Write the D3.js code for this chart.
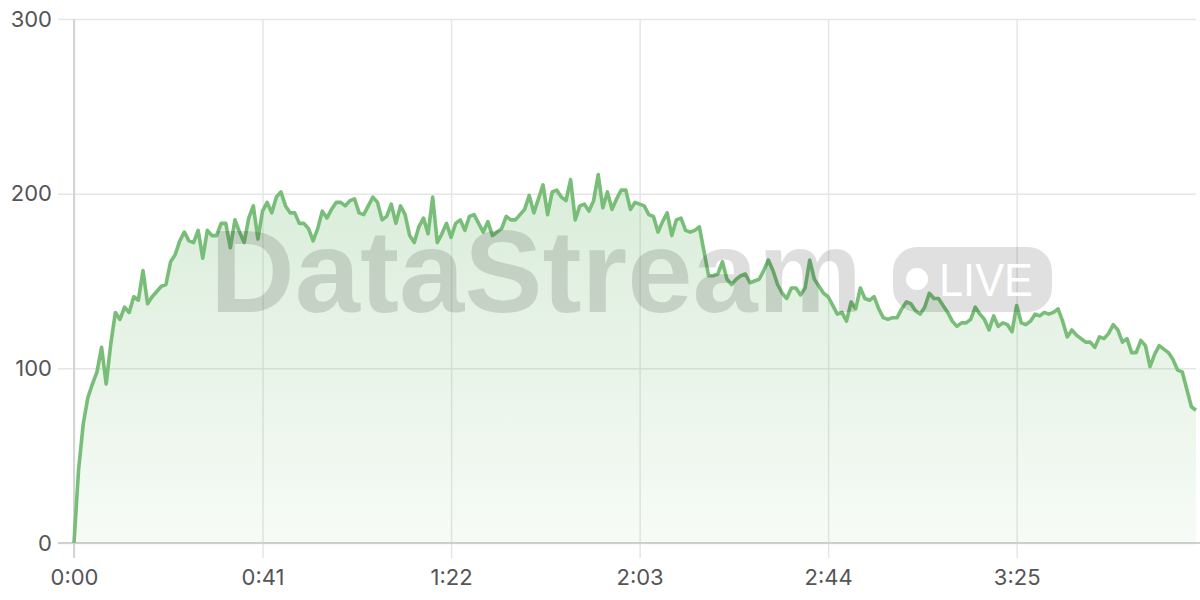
<!DOCTYPE html>
<html>
<head>
<meta charset="utf-8">
<script src="https://cdn.jsdelivr.net/npm/d3@7"></script>
<style>
  body { margin: 0; background: #fff; }
  svg { display: block; }
</style>
</head>
<body>
<svg id="chart"></svg>
<script>
// one reading per second
const values = [
  0, 42, 68, 83, 91, 98, 112, 91, 114, 132, 128, 135, 132, 141, 139, 156, 137, 141, 144, 147,
  148, 161, 165, 173, 178, 173, 172, 179, 163, 179, 176, 176, 183, 183, 169, 185, 178, 172, 186, 193,
  174, 190, 195, 189, 198, 201, 193, 189, 189, 183, 183, 180, 173, 180, 190, 186, 191, 195, 195, 193,
  196, 197, 189, 188, 193, 198, 195, 185, 187, 194, 183, 193, 188, 176, 172, 181, 186, 177, 198, 172,
  177, 183, 175, 183, 185, 179, 187, 188, 183, 178, 184, 176, 178, 180, 187, 185, 185, 188, 191, 199,
  189, 197, 205, 188, 201, 202, 198, 196, 208, 185, 193, 194, 190, 196, 211, 192, 201, 191, 197, 202,
  202, 191, 195, 194, 193, 188, 187, 178, 184, 189, 176, 185, 186, 179, 178, 179, 181, 167, 153, 153,
  154, 161, 151, 148, 151, 153, 154, 149, 150, 151, 156, 162, 156, 148, 143, 140, 146, 146, 142, 146,
  162, 151, 147, 143, 141, 136, 131, 132, 127, 138, 134, 146, 140, 139, 141, 134, 129, 128, 129, 129,
  134, 138, 137, 133, 131, 135, 143, 140, 140, 136, 132, 127, 124, 126, 126, 128, 135, 131, 128, 122,
  130, 124, 126, 125, 121, 136, 126, 125, 127, 131, 130, 132, 131, 132, 134, 127, 118, 122, 119, 117,
  115, 115, 112, 118, 117, 120, 125, 122, 115, 117, 109, 109, 116, 113, 101, 108, 113, 111, 109, 105,
  99, 98, 88, 78, 76
];
const xTickSeconds = [0, 41, 82, 123, 164, 205];
const yTicks = [0, 100, 200, 300];
const watermark = 'DataStream';
const badge = 'LIVE';

const W = 1200, H = 600;
const margin = {top: 19, right: 4, bottom: 57, left: 74};
const w = W - margin.left - margin.right;
const h = H - margin.top - margin.bottom;
const lineColor = '#78bd78';
const font = 'Inter, "DejaVu Sans", sans-serif';

const svg = d3.select('#chart').attr('width', W).attr('height', H);

const defs = svg.append('defs');
const grad = defs.append('linearGradient')
  .attr('id', 'fillGrad')
  .attr('x1', 0).attr('x2', 0).attr('y1', 0).attr('y2', 1);
grad.append('stop').attr('offset', '0%').attr('stop-color', lineColor).attr('stop-opacity', 0.28);
grad.append('stop').attr('offset', '100%').attr('stop-color', lineColor).attr('stop-opacity', 0.06);

const g = svg.append('g').attr('transform', `translate(${margin.left},${margin.top})`);

const x = d3.scaleLinear().domain([0, values.length - 1]).range([0, w]);
const y = d3.scaleLinear().domain([0, 300]).range([h, 0]);

const fmt = s => Math.floor(s / 60) + ':' + String(s % 60).padStart(2, '0');

// y grid + labels
const yAxis = g.append('g')
  .call(d3.axisLeft(y).tickValues(yTicks).tickSize(-w).tickPadding(22));
yAxis.select('.domain').remove();
yAxis.selectAll('.tick line').attr('x1', -16).attr('stroke', '#e6e6e6').attr('stroke-width', 1.5);
yAxis.selectAll('.tick text')
  .attr('fill', '#555').style('font-family', font).style('font-size', '22px');

// x grid + labels
const xAxis = g.append('g')
  .attr('transform', `translate(0,${h})`)
  .call(d3.axisBottom(x).tickValues(xTickSeconds).tickFormat(fmt).tickSize(-h).tickPadding(26));
xAxis.select('.domain').remove();
xAxis.selectAll('.tick line').attr('y1', 15).attr('stroke', '#e6e6e6').attr('stroke-width', 1.5);
xAxis.selectAll('.tick text')
  .attr('fill', '#555').style('font-family', font).style('font-size', '22px');

// axis lines
g.append('line').attr('x1', 0).attr('x2', 0).attr('y1', 0).attr('y2', h + 15)
  .attr('stroke', '#d4d4d4').attr('stroke-width', 2);
g.append('line').attr('x1', -16).attr('x2', w + margin.right).attr('y1', h).attr('y2', h)
  .attr('stroke', '#d0d0d0').attr('stroke-width', 2);

// area
const area = d3.area()
  .x((d, i) => x(i))
  .y0(y(0))
  .y1(d => y(d));
g.append('path')
  .datum(values)
  .attr('d', area)
  .attr('fill', 'url(#fillGrad)');

// watermark
const wm = svg.append('g').attr('class', 'watermark');
wm.append('text')
  .attr('x', 210).attr('y', 312)
  .attr('textLength', 652).attr('lengthAdjust', 'spacingAndGlyphs')
  .style('font-family', '"Liberation Sans", Arial, sans-serif')
  .style('font-weight', 'bold').style('font-size', '116px')
  .attr('fill', '#000').attr('fill-opacity', 0.13)
  .text(watermark);
wm.append('rect')
  .attr('x', 893).attr('y', 247).attr('width', 159).attr('height', 65).attr('rx', 24)
  .attr('fill', '#000').attr('fill-opacity', 0.12);
wm.append('circle').attr('cx', 917).attr('cy', 279).attr('r', 11).attr('fill', '#fff');
wm.append('text')
  .attr('x', 939).attr('y', 296)
  .attr('textLength', 94).attr('lengthAdjust', 'spacingAndGlyphs')
  .style('font-family', '"Liberation Sans", Arial, sans-serif')
  .style('font-size', '46px')
  .attr('fill', '#fff')
  .text(badge);

// line
const line = d3.line()
  .x((d, i) => x(i))
  .y(d => y(d));
g.append('path')
  .datum(values)
  .attr('d', line)
  .attr('fill', 'none')
  .attr('stroke', lineColor)
  .attr('stroke-width', 3.6)
  .attr('stroke-linejoin', 'round');
</script>
</body>
</html>
